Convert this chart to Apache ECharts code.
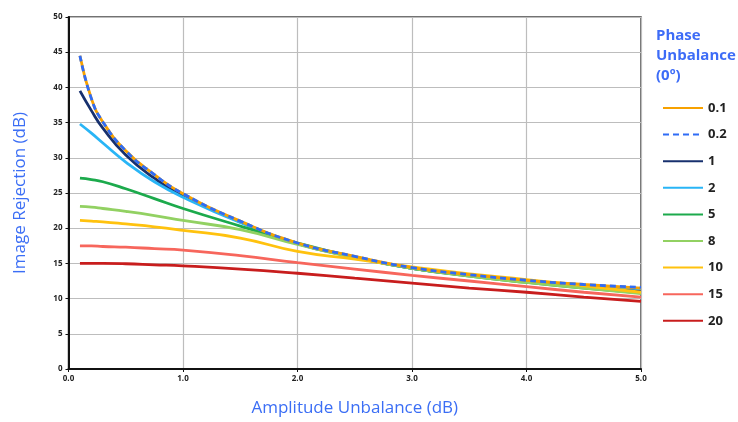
<!DOCTYPE html>
<html>
<head>
<meta charset="utf-8">
<script src="https://cdn.jsdelivr.net/npm/echarts@6/dist/echarts.min.js"></script>
<style>
  html, body { margin: 0; padding: 0; background: #fff; }
  #chart { width: 738px; height: 422px; }
</style>
</head>
<body>
<div id="chart"></div>
<script>
// amplitude unbalance (dB) where each curve was read
const amplitude = [0.1, 0.2, 0.3, 0.5, 0.75, 1, 1.5, 2, 2.5, 3, 3.5, 4, 4.5, 5];

// image rejection (dB), one array per phase unbalance
const phase01 = [44.5, 38.4, 35.1, 31.0, 27.6, 24.9, 21.0, 17.9, 16.0, 14.4, 13.4, 12.6, 12.0, 11.5];
const phase02 = [44.5, 38.4, 35.1, 31.0, 27.6, 24.9, 21.0, 17.9, 16.0, 14.4, 13.4, 12.6, 12.0, 11.6];
const phase1 = [39.5, 36.7, 34.2, 30.4, 27.1, 24.6, 20.9, 17.8, 15.9, 14.3, 13.3, 12.4, 11.8, 11.2];
const phase2 = [34.8, 33.5, 32.1, 29.4, 26.6, 24.4, 20.8, 17.8, 15.9, 14.3, 13.3, 12.5, 11.9, 11.4];
const phase5 = [27.1, 26.9, 26.6, 25.6, 24.2, 22.8, 20.3, 17.9, 15.9, 14.3, 13.2, 12.3, 11.5, 10.8];
const phase8 = [23.1, 23.0, 22.8, 22.4, 21.8, 21.1, 19.8, 17.7, 15.8, 14.3, 13.2, 12.3, 11.5, 10.7];
const phase10 = [21.1, 21.0, 20.9, 20.6, 20.2, 19.7, 18.6, 16.7, 15.6, 14.5, 13.5, 12.7, 11.8, 10.9];
const phase15 = [17.5, 17.5, 17.4, 17.3, 17.1, 16.9, 16.1, 15.1, 14.2, 13.3, 12.5, 11.7, 10.9, 10.2];
const phase20 = [15.0, 15.0, 15.0, 14.95, 14.8, 14.65, 14.2, 13.6, 12.9, 12.2, 11.5, 10.9, 10.2, 9.6];

const seriesNames = ["0.1", "0.2", "1", "2", "5", "8", "10", "15", "20"];
const seriesValues = [phase01, phase02, phase1, phase2, phase5, phase8, phase10, phase15, phase20];
const seriesColors = ["#f7a100", "#2f6cf6", "#17306e", "#29b5f6", "#1caa4c", "#92d162", "#ffc20e", "#f7665c", "#c81d1d"];

const blue = "#3b6ef5";
const font = "Open Sans";

const chart = echarts.init(document.getElementById("chart"));

const series = seriesNames.map((name, k) => ({
  name: name,
  type: "line",
  data: amplitude.map((x, i) => [x, seriesValues[k][i]]),
  smooth: 0.5,
  showSymbol: false,
  symbol: "circle",
  symbolSize: 0,
  color: seriesColors[k],
  // the 0.1 / 0.2 pair sits on top of the bundle
  z: name === "0.2" ? 5 : name === "0.1" ? 4 : 2,
  lineStyle: {
    width: 2.8,
    color: seriesColors[k],
    type: name === "0.2" ? [6, 4] : "solid",
  },
}));

chart.setOption({
  animation: false,
  title: {
    text: "Phase\nUnbalance\n(0º)",
    left: 656,
    top: 26,
    padding: 0,
    textStyle: {
      fontFamily: font,
      fontSize: 15,
      fontWeight: "bold",
      lineHeight: 20,
      color: "#3d6cf7",
    },
  },
  legend: {
    orient: "vertical",
    left: 662,
    top: 101,
    padding: 0,
    itemWidth: 40,
    itemHeight: 14,
    itemGap: 12.6,
    data: seriesNames,
    // hide the marker, keep only the line
    itemStyle: { opacity: 0, borderWidth: 0 },
    textStyle: {
      fontFamily: font,
      fontSize: 13,
      fontWeight: "bold",
      lineHeight: 14,
      color: "#222",
    },
  },
  grid: {
    left: 68.5,
    right: 97,
    top: 17,
    bottom: 48.6,
    show: true,
    borderColor: "#444",
    borderWidth: 1.5,
  },
  xAxis: {
    type: "value",
    min: 0,
    max: 5,
    interval: 1,
    name: "Amplitude Unbalance (dB)",
    nameLocation: "middle",
    nameGap: 31,
    nameTextStyle: { fontFamily: font, fontSize: 17, color: blue },
    axisLine: { onZero: false, lineStyle: { color: "#111", width: 2 } },
    axisTick: { show: true, length: 3, lineStyle: { color: "#111" } },
    axisLabel: {
      fontFamily: font,
      fontSize: 8,
      fontWeight: "bold",
      color: "#222",
      margin: 6,
      formatter: (v) => v.toFixed(1),
    },
    splitLine: { show: true, lineStyle: { color: "#bdbdbd", width: 1.2 } },
  },
  yAxis: {
    type: "value",
    min: 0,
    max: 50,
    interval: 5,
    name: "Image Rejection (dB)",
    nameLocation: "middle",
    nameGap: 40,
    nameTextStyle: { fontFamily: font, fontSize: 17, color: blue },
    axisLine: { show: true, lineStyle: { color: "#111", width: 2 } },
    axisTick: { show: true, length: 3, lineStyle: { color: "#111" } },
    axisLabel: {
      fontFamily: font,
      fontSize: 8,
      fontWeight: "bold",
      color: "#222",
      margin: 6,
    },
    splitLine: { show: true, lineStyle: { color: "#bdbdbd", width: 1.2 } },
  },
  series: series,
});
</script>
</body>
</html>
